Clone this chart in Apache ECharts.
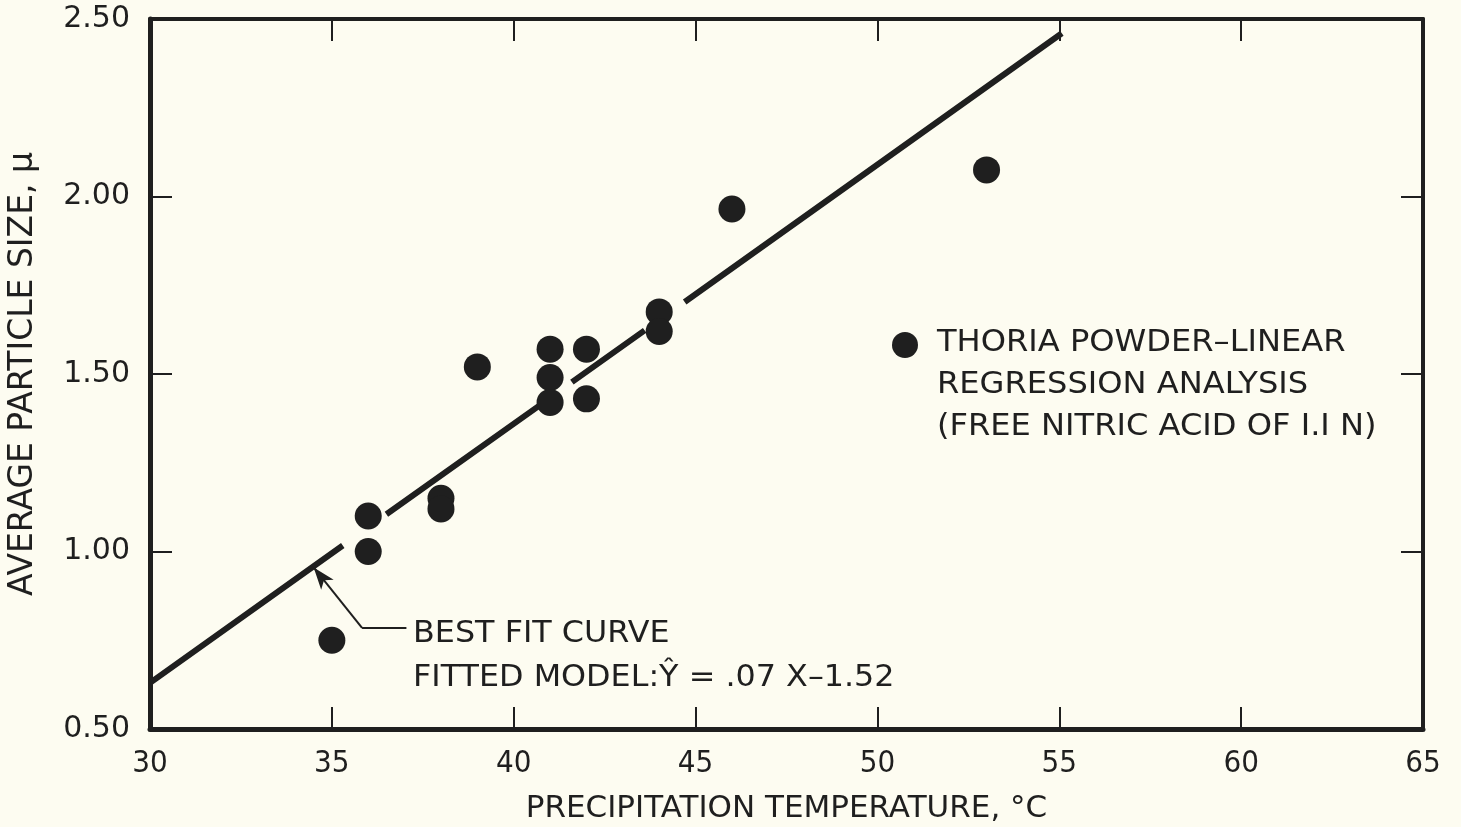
<!DOCTYPE html>
<html>
<head>
<meta charset="utf-8">
<script src="https://cdn.jsdelivr.net/npm/echarts@6/dist/echarts.min.js"></script>
<style>
  html, body { margin: 0; padding: 0; background: #fdfcf1; }
  #chart { width: 1461px; height: 827px; }
</style>
</head>
<body>
<div id="chart"></div>
<script>
// thoria powder points
var tempC = [35, 36, 36, 38, 38, 39, 41, 41, 41, 42, 42, 44, 44, 46, 53];
var sizeMu = [0.75, 1.10, 1.00, 1.15, 1.12, 1.52, 1.57, 1.49, 1.42, 1.57, 1.43, 1.675, 1.62, 1.965, 2.075];

// best fit line, drawn in pieces (gaps where it passes the dots)
var fitX = [30, 35.3, null, 36.5, 40.8, null, 41.6, 43.6, null, 44.7, 55.07];
var fitY = [0.63, 1.017, null, 1.105, 1.418, null, 1.477, 1.623, null, 1.703, 2.46];

var xTicks = [30, 35, 40, 45, 50, 55, 60, 65];
var yTicks = [0.5, 1.0, 1.5, 2.0, 2.5];

var ink = "#1f1f1f";
var chart = echarts.init(document.getElementById("chart"));

var scatterData = tempC.map(function(t, i) {
  return [t, sizeMu[i]];
});
var fitData = fitX.map(function(x, i) {
  return x === null ? [null, null] : [x, fitY[i]];
});

var tickStyle = { show: true, inside: true, length: 22, lineStyle: { color: ink, width: 2 } };

var option = {
  backgroundColor: "#fdfcf1",
  animation: false,
  grid: { left: 150, right: 38, top: 19, bottom: 98, outerBoundsMode: "none", containLabel: false },
  xAxis: [
    {
      type: "value",
      min: xTicks[0],
      max: xTicks[xTicks.length - 1],
      interval: 5,
      name: "PRECIPITATION TEMPERATURE, °C",
      nameLocation: "middle",
      nameGap: 64,
      nameTextStyle: { color: ink, fontSize: 31, fontFamily: "DejaVu Sans" },
      axisLine: { lineStyle: { color: ink, width: 5 } },
      axisTick: tickStyle,
      splitLine: { show: false },
      axisLabel: { color: ink, fontSize: 31, margin: 19, fontFamily: "DejaVu Sans Condensed, DejaVu Sans" }
    },
    {
      type: "value",
      position: "top",
      min: xTicks[0],
      max: xTicks[xTicks.length - 1],
      interval: 5,
      axisLine: { lineStyle: { color: ink, width: 4 } },
      axisTick: tickStyle,
      splitLine: { show: false },
      axisLabel: { show: false }
    }
  ],
  yAxis: [
    {
      type: "value",
      min: yTicks[0],
      max: yTicks[yTicks.length - 1],
      interval: 0.5,
      name: "AVERAGE PARTICLE SIZE, μ",
      nameLocation: "middle",
      nameGap: 110,
      nameTextStyle: { color: ink, fontSize: 33, fontFamily: "DejaVu Sans" },
      axisLine: { lineStyle: { color: ink, width: 5 } },
      axisTick: tickStyle,
      splitLine: { show: false },
      axisLabel: {
        color: ink,
        fontSize: 30,
        margin: 20,
        fontFamily: "DejaVu Sans",
        formatter: function(v) { return v.toFixed(2); }
      }
    },
    {
      type: "value",
      position: "right",
      min: yTicks[0],
      max: yTicks[yTicks.length - 1],
      interval: 0.5,
      axisLine: { lineStyle: { color: ink, width: 4 } },
      axisTick: tickStyle,
      splitLine: { show: false },
      axisLabel: { show: false }
    }
  ],
  series: [
    {
      name: "fit",
      type: "line",
      data: fitData,
      connectNulls: false,
      showSymbol: false,
      lineStyle: { color: ink, width: 6 },
      z: 2,
      markLine: {
        silent: true,
        symbol: ["none", "none"],
        lineStyle: { color: ink, width: 2, type: "solid" },
        label: { show: false },
        data: [
          [{ coord: [37.05, 0.785], symbol: "none" }, { coord: [35.83, 0.785], symbol: "none" }],
          [{ coord: [35.83, 0.785], symbol: "none" }, { coord: [34.5, 0.955], symbol: "arrow", symbolSize: [12, 22] }]
        ]
      }
    },
    {
      name: "THORIA POWDER",
      type: "scatter",
      data: scatterData,
      symbol: "circle",
      symbolSize: 27,
      itemStyle: { color: ink, opacity: 1 },
      z: 3
    }
  ],
  graphic: [
    { type: "circle", shape: { cx: 905, cy: 345, r: 13 }, style: { fill: ink } },
    {
      type: "text",
      x: 937,
      y: 322,
      scaleX: 1.07,
      style: {
        text: "THORIA POWDER–LINEAR\nREGRESSION ANALYSIS\n(FREE NITRIC ACID OF I.I N)",
        fill: ink,
        font: "30px DejaVu Sans",
        lineHeight: 42
      }
    },
    {
      type: "text",
      x: 413,
      y: 612,
      scaleX: 1.06,
      style: {
        text: "BEST FIT CURVE\nFITTED MODEL:Ŷ = .07 X–1.52",
        fill: ink,
        font: "30px DejaVu Sans",
        lineHeight: 44
      }
    }
  ]
};

chart.setOption(option);
window.addEventListener("resize", function() {
  chart.resize();
});
</script>
</body>
</html>
